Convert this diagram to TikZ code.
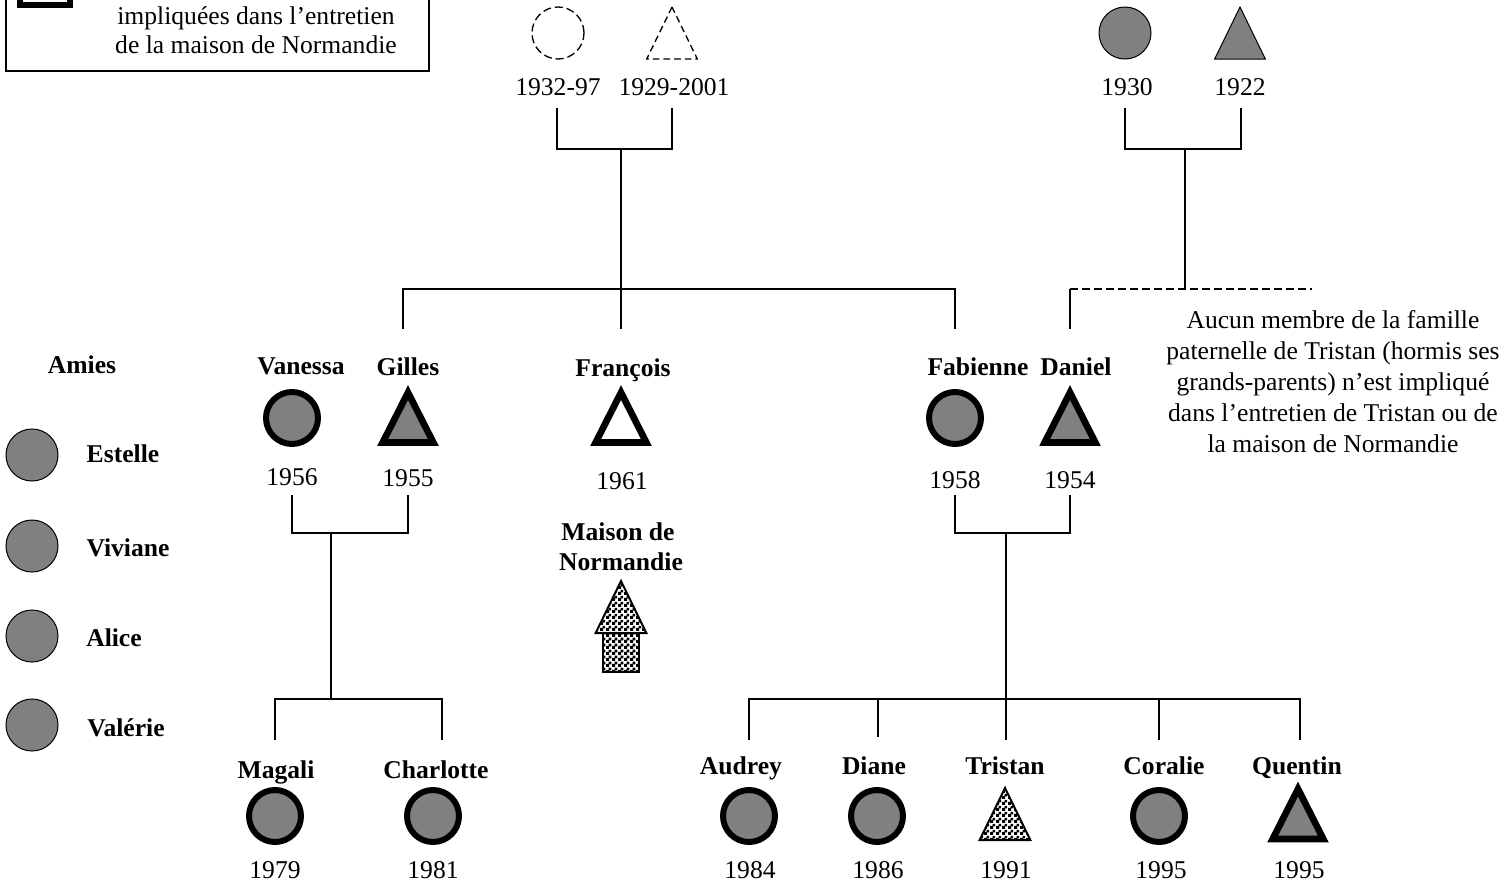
\documentclass[tikz,border=0pt]{standalone}
\usepackage{fontspec}
\setmainfont{Liberation Serif}
\usetikzlibrary{
    shapes.geometric,
    patterns,
}
\pgfdeclarepatternformonly{checker}{\pgfqpoint{0pt}{0pt}}{\pgfqpoint{4.5pt}{4.5pt}}{\pgfqpoint{4.5pt}{4.5pt}}{
    \pgfpathrectangle{\pgfqpoint{0pt}{0pt}}{\pgfqpoint{2.7pt}{2.7pt}}
    \pgfpathrectangle{\pgfqpoint{2.25pt}{2.25pt}}{\pgfqpoint{2.25pt}{2.25pt}}
    \pgfusepath{fill}
}
\definecolor{tone}{HTML}{808080}
\tikzset{
    every node/.style={font=\fontsize{19.2}{23}\selectfont, inner sep=0pt, outer sep=0pt},
    person/.style={font=\fontsize{19.2}{23}\selectfont\bfseries, text height=15.5pt, text depth=3pt},
    yearlabel/.style={text height=15.5pt, text depth=3pt},
    ring/.style={circle, draw=black, line width=0.75pt, fill=tone, minimum size=39pt},
    boldring/.style={circle, draw=black, line width=4.5pt, fill=tone, minimum size=39pt},
    dashring/.style={circle, draw=black, line width=1pt, dash pattern=on 6pt off 3pt, minimum size=39pt},
    tri/.style={isosceles triangle, isosceles triangle stretches, shape border rotate=90, anchor=lower side,
        minimum width=38pt, minimum height=39pt, draw=black, line width=0.75pt},
    greytri/.style={tri, fill=tone},
    boldtri/.style={tri, line width=5pt, minimum height=37.5pt, line join=miter},
    dashtri/.style={tri, line width=1pt, dash pattern=on 5pt off 3pt},
    checktri/.style={tri, line width=1.5pt, pattern=checker},
    link/.style={line width=0.8pt},
}
\begin{document}
\begin{tikzpicture}[x=0.75pt, y=-0.75pt]
    \useasboundingbox (0,0) rectangle (1503,889);

    % legend
    \draw[line width=0.9pt] (6,-10) rectangle (429,71);
    \draw[line width=4.5pt] (20,-40) rectangle (70,5);
    \node[align=center, font=\fontsize{19.2}{22}\selectfont] (legend) at (256,30) {impliquées dans l’entretien\\de la maison de Normandie};

    % grandparents
    \node[dashring] (gmA) at (558,33) {};
    \node[dashtri] (gpA) at (672,59) {};
    \node[yearlabel] (gmAyear) at (558,87) {1932-97};
    \node[yearlabel] (gpAyear) at (674,87) {1929-2001};
    \node[ring] (gmB) at (1125,33) {};
    \node[greytri] (gpB) at (1240,59) {};
    \node[yearlabel] (gmByear) at (1127,87) {1930};
    \node[yearlabel] (gpByear) at (1240,87) {1922};

    % friends
    \node[person] (amies) at (82,365) {Amies};
    \node[ring] (estelle) at (32,455) {};
    \node[ring] (viviane) at (32,546) {};
    \node[ring] (alice) at (32,636) {};
    \node[ring] (valerie) at (32,725) {};
    \node[person] (estelleName) at (123,454) {Estelle};
    \node[person] (vivianeName) at (128,548) {Viviane};
    \node[person] (aliceName) at (114,638) {Alice};
    \node[person] (valerieName) at (126,728) {Valérie};

    % parents
    \node[person] (vanessaName) at (301,366) {Vanessa};
    \node[person] (gillesName) at (408,367) {Gilles};
    \node[person] (francoisName) at (623,368) {François};
    \node[person] (fabienneName) at (978,367) {Fabienne};
    \node[person] (danielName) at (1076,367) {Daniel};
    \node[boldring] (vanessa) at (292,418) {};
    \node[boldtri, fill=tone] (gilles) at (408,442.5) {};
    \node[boldtri] (francois) at (621,442.5) {};
    \node[boldring] (fabienne) at (955,418) {};
    \node[boldtri, fill=tone] (daniel) at (1070,442.5) {};
    \node[yearlabel] (vanessaYear) at (292,477) {1956};
    \node[yearlabel] (gillesYear) at (408,478) {1955};
    \node[yearlabel] (francoisYear) at (622,481) {1961};
    \node[yearlabel] (fabienneYear) at (955,480) {1958};
    \node[yearlabel] (danielYear) at (1070,480) {1954};

    % house
    \node[person] (maison) at (618,532) {Maison de};
    \node[person] (normandie) at (621,562) {Normandie};
    \draw[line width=1.5pt, pattern=checker] (603,633) rectangle (639,672);
    \node[checktri] (roof) at (621,633) {};

    % children
    \node[person] (magaliName) at (276,770) {Magali};
    \node[person] (charlotteName) at (436,770) {Charlotte};
    \node[person] (audreyName) at (741,766) {Audrey};
    \node[person] (dianeName) at (874,766) {Diane};
    \node[person] (tristanName) at (1005,766) {Tristan};
    \node[person] (coralieName) at (1164,766) {Coralie};
    \node[person] (quentinName) at (1297,766) {Quentin};
    \node[boldring] (magali) at (275,816) {};
    \node[boldring] (charlotte) at (433,816) {};
    \node[boldring] (audrey) at (749,816) {};
    \node[boldring] (diane) at (877,816) {};
    \node[checktri] (tristan) at (1005,840) {};
    \node[boldring] (coralie) at (1159,816) {};
    \node[boldtri, fill=tone] (quentin) at (1298,839) {};
    \node[yearlabel] (magaliYear) at (275,870) {1979};
    \node[yearlabel] (charlotteYear) at (433,870) {1981};
    \node[yearlabel] (audreyYear) at (750,870) {1984};
    \node[yearlabel] (dianeYear) at (878,870) {1986};
    \node[yearlabel] (tristanYear) at (1006,870) {1991};
    \node[yearlabel] (coralieYear) at (1161,870) {1995};
    \node[yearlabel] (quentinYear) at (1299,870) {1995};

    % note
    \node[align=center, font=\fontsize{19.2}{23.2}\selectfont] (note) at (1333,381.5) {Aucun membre de la famille\\paternelle de Tristan (hormis ses\\grands-parents) n’est impliqué\\dans l’entretien de Tristan ou de\\la maison de Normandie};

    % connector points
    \coordinate (a1) at (557,108);
    \coordinate (a2) at (672,108);
    \coordinate (a3) at (621,149);
    \coordinate (a4) at (621,289);
    \coordinate (a5) at (621,329);
    \coordinate (a6) at (403,329);
    \coordinate (a7) at (955,329);
    \coordinate (b1) at (1125,108);
    \coordinate (b2) at (1241,108);
    \coordinate (b3) at (1185,149);
    \coordinate (b4) at (1185,289);
    \coordinate (b5) at (1070,329);
    \coordinate (b6) at (1312,289);
    \coordinate (c1) at (292,495);
    \coordinate (c2) at (408,495);
    \coordinate (c3) at (331,533);
    \coordinate (c4) at (331,699);
    \coordinate (c5) at (275,740);
    \coordinate (c6) at (442,740);
    \coordinate (d1) at (955,495);
    \coordinate (d2) at (1070,495);
    \coordinate (d3) at (1006,533);
    \coordinate (d4) at (1006,699);
    \coordinate (d5) at (749,740);
    \coordinate (d6) at (878,737);
    \coordinate (d7) at (1006,740);
    \coordinate (d8) at (1159,740);
    \coordinate (d9) at (1300,740);

    \draw[link] (a1) |- (a3) -| (a2);
    \draw[link] (a3) -- (a5);
    \draw[link] (a6) |- (a4) -| (a7);
    \draw[link] (b1) |- (b3) -| (b2);
    \draw[link] (b3) -- (b4);
    \draw[link, dash pattern=on 6pt off 3pt] (b5 |- b4) -- (b6);
    \draw[link] (b5) -- (b5 |- b4);
    \draw[link] (c1) |- (c3) -| (c2);
    \draw[link] (c3) -- (c4);
    \draw[link] (c5) |- (c4) -| (c6);
    \draw[link] (d1) |- (d3) -| (d2);
    \draw[link] (d3) -- (d7);
    \draw[link] (d5) |- (d4) -| (d9);
    \draw[link] (d6) -- (d6 |- d4);
    \draw[link] (d8) -- (d8 |- d4);
\end{tikzpicture}
\end{document}
